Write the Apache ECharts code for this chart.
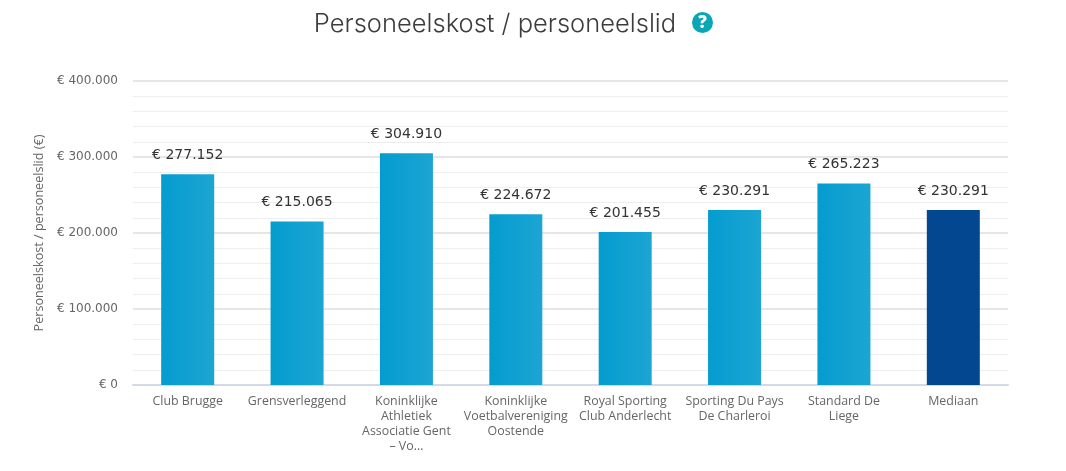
<!DOCTYPE html>
<html>
<head>
<meta charset="utf-8">
<style>html,body{margin:0;padding:0;background:#fff}#chart{width:1066px;height:471px}</style>
<script src="https://cdn.jsdelivr.net/npm/echarts@6/dist/echarts.min.js"></script>
</head>
<body>
<div id="chart"></div>
<script>
// Personeelskost per personeelslid
var categories = ['Club Brugge', 'Grensverleggend', 'Koninklijke\nAthletiek\nAssociatie Gent\n– Vo...',
    'Koninklijke\nVoetbalvereniging\nOostende', 'Royal Sporting\nClub Anderlecht',
    'Sporting Du Pays\nDe Charleroi', 'Standard De\nLiege', 'Mediaan'];
var values = [277152, 215065, 304910, 224672, 201455, 230291, 265223, 230291];
var medianName = 'Mediaan';
var title = 'Personeelskost / personeelslid';
var yName = 'Personeelskost / personeelslid (€)';

function euro(v) {
    return '€ ' + String(v).replace(/\B(?=(\d{3})+$)/g, '.');
}

var barGradient = new echarts.graphic.LinearGradient(0, 0, 1, 0, [
    {offset: 0, color: '#049CCF'},
    {offset: 1, color: '#1CA5D3'}
]);

var seriesData = values.map(function (v, i) {
    return {
        value: v,
        itemStyle: {color: categories[i] === medianName ? '#02478F' : barGradient}
    };
});

var myChart = echarts.init(document.getElementById('chart'));
var option = {
    backgroundColor: '#fff',
    animation: false,
    title: {
        text: title,
        left: 490, top: 6, textAlign: 'center',
        textStyle: {color: '#3c3c3c', fontFamily: 'Inter', fontWeight: 300, fontSize: 25.5}
    },
    graphic: [
        {type: 'circle', shape: {cx: 702.5, cy: 22.5, r: 10.5}, style: {fill: '#0AA6B4'}},
        {type: 'text', x: 702.5, y: 23, style: {
            text: '?', fill: '#fff', fontFamily: 'Open Sans', fontWeight: 800, fontSize: 17,
            align: 'center', verticalAlign: 'middle'
        }}
    ],
    grid: {left: 133, right: 58, top: 81, bottom: 86},
    xAxis: {
        type: 'category',
        data: categories,
        axisTick: {show: false},
        axisLine: {lineStyle: {color: '#d3d9e6', width: 2}},
        axisLabel: {
            interval: 0, color: '#666', fontFamily: 'Open Sans', fontSize: 12.4,
            lineHeight: 15, margin: 9, hideOverlap: false
        }
    },
    yAxis: {
        type: 'value',
        min: 0, max: 400000, interval: 100000,
        name: yName,
        nameLocation: 'middle',
        nameGap: 84,
        nameTextStyle: {color: '#666', fontFamily: 'Open Sans', fontSize: 12.6},
        axisLine: {show: false},
        axisTick: {show: false},
        axisLabel: {color: '#666', fontFamily: 'DejaVu Sans', fontSize: 12, margin: 15, formatter: euro},
        splitLine: {show: true, lineStyle: {color: '#e6e6e6', width: 2}},
        minorTick: {show: false, splitNumber: 5},
        minorSplitLine: {show: true, lineStyle: {color: '#eeeeee', width: 1}}
    },
    series: [{
        type: 'bar',
        data: seriesData,
        barWidth: 53,
        label: {
            show: true, position: 'top', distance: 12,
            color: '#333', fontFamily: 'DejaVu Sans', fontSize: 14,
            formatter: function (p) { return euro(p.value); }
        }
    }]
};
myChart.setOption(option);
</script>
</body>
</html>
